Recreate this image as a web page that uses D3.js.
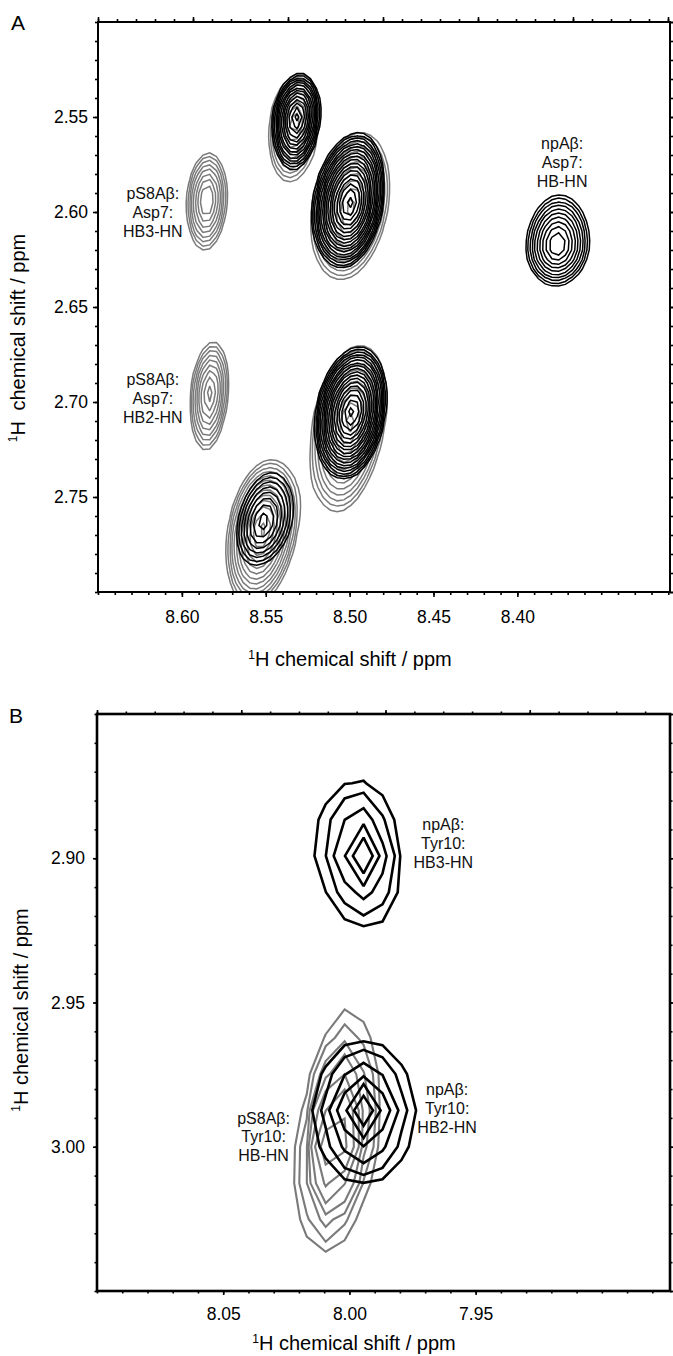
<!DOCTYPE html>
<html>
<head>
<meta charset="utf-8">
<script src="https://cdn.jsdelivr.net/npm/d3@7"></script>
<style>
  body { margin: 0; background: #fff; }
  svg { display: block; font-family: "Liberation Sans", Arial, sans-serif; }
</style>
</head>
<body>
<svg id="chart" width="673" height="1356"></svg>
<script>
"use strict"

/****** DATA (ppm) ******/
// x, y: peak centre
// l, r, u, d: half extent of the lowest contour to the left / right / up / down
// amp: peak height in units of the lowest contour level
// sh: tilt of the peak (ppm x per ppm y, > 0 leans right at the top)
const asp7_np = [
  { x: 8.5314, y: 2.5500, l: 0.0143, r: 0.0137, u: 0.0226, d: 0.0274, amp: 20, sh: 0.09 },
  { x: 8.4998, y: 2.5953, l: 0.0221, r: 0.0197, u: 0.0368, d: 0.0337, amp: 50, sh: 0.14 },
  { x: 8.4986, y: 2.7053, l: 0.0215, r: 0.0200, u: 0.0340, d: 0.0350, amp: 50, sh: 0.14 },
  { x: 8.3762, y: 2.6175, l: 0.0185, r: 0.0190, u: 0.0262, d: 0.0212, amp: 10, sh: 0.05 },
  { x: 8.5517, y: 2.7632, l: 0.0149, r: 0.0173, u: 0.0258, d: 0.0226, amp: 5.5, sh: 0.20 }
]
const asp7_pS8 = [
  { x: 8.5851, y: 2.5937, l: 0.0119, r: 0.0119, u: 0.0247, d: 0.0263, amp: 6.7, sh: 0.05 },
  { x: 8.5833, y: 2.6953, l: 0.0113, r: 0.0107, u: 0.0268, d: 0.0300, amp: 6.7, sh: 0.08 },
  { x: 8.5326, y: 2.5526, l: 0.0150, r: 0.0140, u: 0.0250, d: 0.0310, amp: 9, sh: 0.12 },
  { x: 8.4992, y: 2.5974, l: 0.0230, r: 0.0220, u: 0.0390, d: 0.0380, amp: 13, sh: 0.16 },
  { x: 8.4998, y: 2.7105, l: 0.0220, r: 0.0210, u: 0.0400, d: 0.0470, amp: 13, sh: 0.16 },
  { x: 8.5523, y: 2.7674, l: 0.0203, r: 0.0209, u: 0.0368, d: 0.0400, amp: 16, sh: 0.15 }
]
const tyr10_np = [
  { x: 7.9942, y: 2.8992, l: 0.0189, r: 0.0140, u: 0.0260, d: 0.0238, amp: 7.5, sh: -0.08 },
  { x: 7.9946, y: 2.9874, l: 0.0193, r: 0.0203, u: 0.0226, d: 0.0250, amp: 11, sh: 0 }
]
const tyr10_pS8 = [
  { x: 8.0062, y: 2.9985, l: 0.0135, r: 0.0165, u: 0.0450, d: 0.0370, amp: 32, sh: 0.12 }
]

// contour levels (multiples of the lowest level)
const levelsA = [1, 1.25, 1.563, 1.953, 2.441, 3.052, 3.815, 4.768, 5.96, 7.451,
  9.313, 11.64, 14.55, 18.19, 22.74, 28.42, 35.53, 44.41, 55.51, 69.39]
const levelsB = [1, 1.5, 2.25, 3.375, 5.063, 7.594, 11.39, 17.09, 25.63, 38.44]

const xTicksA = [8.60, 8.55, 8.50, 8.45, 8.40]
const yTicksA = [2.55, 2.60, 2.65, 2.70, 2.75]
const xTicksB = [8.05, 8.00, 7.95]
const yTicksB = [2.90, 2.95, 3.00]

const labelsA = [
  ['npAβ:', 'Asp7:', 'HB-HN'],
  ['pS8Aβ:', 'Asp7:', 'HB3-HN'],
  ['pS8Aβ:', 'Asp7:', 'HB2-HN']
]
const labelsB = [
  ['npAβ:', 'Tyr10:', 'HB3-HN'],
  ['npAβ:', 'Tyr10:', 'HB2-HN'],
  ['pS8Aβ:', 'Tyr10:', 'HB-HN']
]

const black = '#000'
const grey = '#7a7a7a'
const fmt = d3.format('.2f')
const svg = d3.select('#chart')

/****** FUNCTIONS ******/
// sum of the peaks of one sample on a (coarse) spectrum grid
function peakField(peaks, gx, gy, p) {
  const values = new Float64Array(gx.length * gy.length)
  gy.forEach((yy, j) => gx.forEach((xx, i) => {
    let v = 0
    for (const pk of peaks) {
      const dy = yy - pk.y
      const dx = xx - pk.x - pk.sh * dy
      const n = Math.pow(Math.log(pk.amp), 1 / p)
      const sx = (dx > 0 ? pk.l : pk.r) / n
      const sy = (dy < 0 ? pk.u : pk.d) / n
      v += pk.amp * Math.exp(-Math.pow(Math.hypot(dx / sx, dy / sy), p))
    }
    values[j * gx.length + i] = v
  }))
  return values
}

function axisTitle(g, x, y, rot, size, gap) {
  const t = g.append('text')
    .attr('transform', `translate(${x},${y}) rotate(${rot})`)
    .attr('text-anchor', 'middle')
    .attr('font-size', size)
  t.append('tspan').attr('font-size', size * 0.6).attr('dy', -size * 0.36).text('1')
  t.append('tspan').attr('dy', size * 0.36).text('H')
  t.append('tspan').attr('dx', gap).text(' chemical shift / ppm')
}

function drawPanel(cfg) {
  const g = svg.append('g')
  const x = d3.scaleLinear().domain(cfg.xDomain).range([cfg.left, cfg.right])
  const y = d3.scaleLinear().domain(cfg.yDomain).range([cfg.top, cfg.bottom])

  // clip
  g.append('clipPath').attr('id', 'clip-' + cfg.id)
    .append('rect')
      .attr('x', cfg.left).attr('y', cfg.top)
      .attr('width', cfg.right - cfg.left).attr('height', cfg.bottom - cfg.top)

  // spectrum grid
  const m = 0.03
  const k0 = Math.floor((cfg.grid.ox - (cfg.xDomain[0] + m)) / cfg.grid.dx)
  const k1 = Math.ceil((cfg.grid.ox - (cfg.xDomain[1] - m)) / cfg.grid.dx)
  const j0 = Math.floor((cfg.yDomain[0] - m - cfg.grid.oy) / cfg.grid.dy)
  const j1 = Math.ceil((cfg.yDomain[1] + m - cfg.grid.oy) / cfg.grid.dy)
  const gx = d3.range(k0, k1 + 1).map(k => cfg.grid.ox - k * cfg.grid.dx)
  const gy = d3.range(j0, j1 + 1).map(j => cfg.grid.oy + j * cfg.grid.dy)

  const path = d3.geoPath(d3.geoTransform({
    point: function (cx, cy) {
      this.stream.point(
        x(cfg.grid.ox - (k0 + cx - 0.5) * cfg.grid.dx),
        y(cfg.grid.oy + (j0 + cy - 0.5) * cfg.grid.dy))
    }
  }))

  const spectra = g.append('g').attr('clip-path', `url(#clip-${cfg.id})`)
  cfg.series.forEach(s => {
    const contours = d3.contours()
      .size([gx.length, gy.length])
      .thresholds(cfg.levels)(peakField(s.peaks, gx, gy, cfg.p))
    spectra.append('g')
      .selectAll('path')
      .data(contours.filter(c => c.coordinates.length))
      .enter()
      .append('path')
        .attr('d', path)
        .attr('fill', 'none')
        .attr('stroke', s.color)
        .attr('stroke-width', s.width)
        .attr('stroke-linejoin', 'miter')
        .attr('stroke-miterlimit', 2)
  })

  // axes
  const isMajor = v => Math.abs(v * 20 - Math.round(v * 20)) < 1e-6
  const minor = sc => sc.ticks(Math.round(Math.abs(sc.domain()[1] - sc.domain()[0]) * 100))
  const top = d3.scaleLinear()
    .domain([cfg.yDomain[0], y.invert(cfg.top + cfg.right - cfg.left)])
    .range([cfg.left, cfg.right])

  const sides = [
    { axis: d3.axisBottom, sc: x, at: `translate(0,${cfg.bottom})`, major: cfg.xTicks, pad: cfg.padX },
    { axis: d3.axisLeft, sc: y, at: `translate(${cfg.left},0)`, major: cfg.yTicks, pad: cfg.padY },
    { axis: d3.axisRight, sc: y, at: `translate(${cfg.right},0)`, major: minor(y).filter(isMajor) },
    { axis: d3.axisTop, sc: top, at: `translate(0,${cfg.top})`, major: minor(top).filter(isMajor) }
  ]
  sides.forEach(sd => {
    const a = g.append('g').attr('transform', sd.at)
    a.append('g')
      .call(sd.axis(sd.sc).tickValues(minor(sd.sc)).tickSize(cfg.tickMinor).tickFormat(''))
    a.append('g')
      .call(sd.axis(sd.sc).tickValues(sd.major).tickSize(cfg.tickMajor)
        .tickPadding(sd.pad || 3).tickFormat(sd.pad ? fmt : ''))
    a.selectAll('.domain').remove()
    a.selectAll('line').attr('stroke', black).attr('stroke-width', 1.6)
    a.selectAll('text')
      .attr('font-family', '"Liberation Sans", Arial, sans-serif')
      .attr('font-size', 17.5)
      .attr('fill', black)
  })

  // frame
  g.append('rect')
    .attr('x', cfg.left).attr('y', cfg.top)
    .attr('width', cfg.right - cfg.left).attr('height', cfg.bottom - cfg.top)
    .attr('fill', 'none').attr('stroke', black).attr('stroke-width', cfg.frame)

  // peak labels
  cfg.labels.forEach((lines, i) => {
    const t = g.append('text')
      .attr('text-anchor', 'middle')
      .attr('font-size', 16)
      .attr('fill', '#111')
    lines.forEach((line, li) => {
      t.append('tspan')
        .attr('x', x(cfg.labelAt[i][0]))
        .attr('y', y(cfg.labelAt[i][1]) + li * 18.8)
        .text(line)
    })
  })

  // titles
  g.append('text')
    .attr('x', cfg.letter[0]).attr('y', cfg.letter[1])
    .attr('font-size', 21)
    .text(cfg.id)
  axisTitle(g, cfg.xTitle[0], cfg.xTitle[1], 0, 20, 0)
  axisTitle(g, cfg.yTitle[0], cfg.yTitle[1], -90, 20, cfg.yGap)
}

/****** DRAW ******/
drawPanel({
  id: 'A',
  xDomain: [8.65, 8.309], yDomain: [2.50, 2.80],
  left: 98, right: 670, top: 22, bottom: 592,
  grid: { ox: 8.5314, oy: 2.5500, dx: 0.004, dy: 0.005 },
  p: 1.5, levels: levelsA,
  series: [
    { peaks: asp7_pS8, color: grey, width: 1.5 },
    { peaks: asp7_np, color: black, width: 1.5 }
  ],
  xTicks: xTicksA, yTicks: yTicksA, padX: 14, padY: 5,
  tickMajor: 5, tickMinor: 3, frame: 2,
  labels: labelsA,
  labelAt: [[8.3733, 2.5668], [8.6173, 2.5932], [8.6173, 2.6911]],
  letter: [11, 30], xTitle: [350, 666], yTitle: [24.5, 338], yGap: 5
})

drawPanel({
  id: 'B',
  xDomain: [8.10, 7.873], yDomain: [2.85, 3.05],
  left: 97, right: 670, top: 714, bottom: 1291,
  grid: { ox: 7.9944, oy: 2.8992, dx: 0.0075, dy: 0.0126 },
  p: 1, levels: levelsB,
  series: [
    { peaks: tyr10_pS8, color: grey, width: 2.1 },
    { peaks: tyr10_np, color: black, width: 2.6 }
  ],
  xTicks: xTicksB, yTicks: yTicksB, padX: 13, padY: 8,
  tickMajor: 4, tickMinor: 2.5, frame: 2.6,
  labels: labelsB,
  labelAt: [[7.9628, 2.8902], [7.9613, 2.9822], [8.0340, 2.9920]],
  letter: [9, 723], xTitle: [354, 1350], yTitle: [27.5, 1010], yGap: 0
})
</script>
</body>
</html>
